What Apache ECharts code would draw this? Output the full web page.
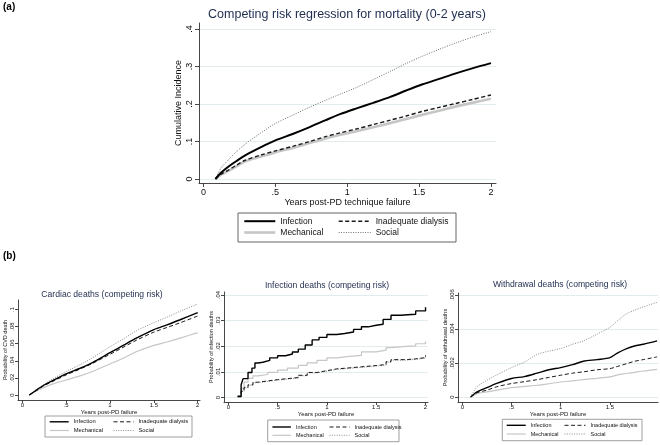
<!DOCTYPE html>
<html><head><meta charset="utf-8">
<script src="https://cdn.jsdelivr.net/npm/echarts@6/dist/echarts.min.js"></script>
<style>html,body{margin:0;padding:0;background:#fff}#c{width:660px;height:445px}</style>
</head><body><div id="c"></div>
<script>
// ---------------- DATA ----------------
const NAMES = ['Infection', 'Mechanical', 'Inadequate dialysis', 'Social'];

// Panel (a): Competing risk regression for mortality (0-2 years)
const A_X          = [0.083, 0.12, 0.17, 0.23, 0.29, 0.4, 0.5, 0.62, 0.73, 0.85, 0.95, 1.07, 1.18, 1.3, 1.41, 1.52, 1.64, 1.75, 1.87, 2.0];
const A_INFECTION  = [0, 0.016, 0.032, 0.048, 0.063, 0.085, 0.103, 0.12, 0.137, 0.157, 0.173, 0.189, 0.203, 0.219, 0.236, 0.252, 0.267, 0.281, 0.295, 0.309];
const A_MECHANICAL = [0, 0.011, 0.021, 0.034, 0.047, 0.06, 0.071, 0.083, 0.095, 0.108, 0.118, 0.128, 0.138, 0.149, 0.16, 0.171, 0.182, 0.193, 0.203, 0.214];
const A_INADEQUATE = [0, 0.012, 0.023, 0.037, 0.05, 0.064, 0.075, 0.087, 0.099, 0.113, 0.123, 0.134, 0.145, 0.157, 0.168, 0.18, 0.191, 0.201, 0.212, 0.224];
const A_SOCIAL     = [0, 0.028, 0.05, 0.073, 0.093, 0.123, 0.148, 0.17, 0.19, 0.21, 0.226, 0.245, 0.265, 0.287, 0.308, 0.327, 0.346, 0.362, 0.378, 0.393];
const A_XTICKS = [0, 0.5, 1, 1.5, 2];
const A_YTICKS = [0, 0.1, 0.2, 0.3, 0.4];

// Panel (b1): Cardiac deaths
const B1_X          = [0.08, 0.15, 0.25, 0.35, 0.5, 0.65, 0.8, 1.0, 1.15, 1.3, 1.5, 1.65, 1.8, 2.0];
const B1_INFECTION  = [0, 0.005, 0.0117, 0.017, 0.0246, 0.031, 0.038, 0.0495, 0.058, 0.0665, 0.0765, 0.082, 0.088, 0.0963];
const B1_MECHANICAL = [0, 0.004, 0.0088, 0.013, 0.0175, 0.022, 0.0275, 0.0363, 0.043, 0.0505, 0.058, 0.062, 0.0665, 0.0729];
const B1_INADEQUATE = [0, 0.0045, 0.011, 0.016, 0.0235, 0.03, 0.037, 0.0476, 0.0558, 0.064, 0.0735, 0.079, 0.0845, 0.0924];
const B1_SOCIAL     = [0, 0.0055, 0.0125, 0.019, 0.0273, 0.035, 0.0435, 0.0565, 0.0655, 0.075, 0.0846, 0.091, 0.098, 0.1064];
const B1_XTICKS = [0, 0.5, 1, 1.5, 2];
const B1_YTICKS = [0, 0.02, 0.04, 0.06, 0.08, 0.1];

// Panel (b2): Infection deaths
const B2_X_INF      = [0.095, 0.13, 0.15, 0.2, 0.24, 0.27, 0.3, 0.35, 0.42, 0.5, 0.58, 0.65, 0.71, 0.78, 0.85, 0.92, 1.0, 1.1, 1.18, 1.27, 1.35, 1.42, 1.5, 1.57, 1.65, 1.75, 1.82, 1.9, 2.0];
const B2_INFECTION  = [0.0005, 0.005, 0.0074, 0.0098, 0.0115, 0.0135, 0.0138, 0.0145, 0.0155, 0.0163, 0.017, 0.0178, 0.0189, 0.0205, 0.0225, 0.0235, 0.0246, 0.025, 0.0256, 0.0266, 0.0276, 0.0282, 0.0286, 0.0305, 0.0321, 0.0323, 0.0325, 0.0338, 0.0352];
const B2_X          = [0.095, 0.13, 0.16, 0.2, 0.25, 0.3, 0.4, 0.5, 0.6, 0.71, 0.8, 0.9, 1.0, 1.1, 1.2, 1.35, 1.5, 1.6, 1.65, 1.8, 1.9, 2.0];
const B2_MECHANICAL = [0.0005, 0.0035, 0.006, 0.0075, 0.0085, 0.009, 0.0098, 0.0107, 0.0115, 0.0126, 0.0135, 0.0145, 0.0155, 0.016, 0.0165, 0.0178, 0.0185, 0.0195, 0.02, 0.0202, 0.021, 0.022];
const B2_INADEQUATE = [0.0003, 0.0025, 0.004, 0.005, 0.006, 0.0065, 0.007, 0.0074, 0.0078, 0.0087, 0.0098, 0.0105, 0.0112, 0.0115, 0.012, 0.0125, 0.0129, 0.014, 0.0148, 0.0151, 0.0156, 0.0165];
const B2_SOCIAL     = [0.0003, 0.0024, 0.0038, 0.0048, 0.0058, 0.0063, 0.0068, 0.0072, 0.0076, 0.0085, 0.0096, 0.0103, 0.011, 0.0113, 0.0118, 0.0123, 0.0127, 0.0138, 0.0146, 0.0149, 0.0154, 0.0163];
const B2_XTICKS = [0, 0.5, 1, 1.5, 2];
const B2_YTICKS = [0, 0.01, 0.02, 0.03, 0.04];

// Panel (b3): Withdrawal deaths
const B3_X          = [0.085, 0.15, 0.25, 0.35, 0.5, 0.63, 0.76, 0.88, 1.0, 1.12, 1.23, 1.37, 1.5, 1.58, 1.67, 1.75, 1.84, 1.98];
const B3_INFECTION  = [0, 0.0003, 0.00055, 0.0008, 0.00109, 0.0012, 0.0014, 0.0016, 0.00173, 0.0019, 0.0021, 0.0022, 0.00232, 0.0026, 0.00285, 0.003, 0.0031, 0.0033];
const B3_MECHANICAL = [0, 0.0002, 0.0003, 0.0004, 0.00055, 0.00062, 0.00069, 0.00078, 0.00088, 0.00095, 0.00102, 0.0011, 0.00118, 0.0013, 0.00138, 0.00145, 0.00153, 0.00163];
const B3_INADEQUATE = [0, 0.00025, 0.0004, 0.0006, 0.00079, 0.0009, 0.00102, 0.00115, 0.00128, 0.0014, 0.00148, 0.0016, 0.00167, 0.0018, 0.00196, 0.0021, 0.0022, 0.00236];
const B3_SOCIAL     = [0, 0.0006, 0.00098, 0.0013, 0.00173, 0.00205, 0.0025, 0.0027, 0.00285, 0.0031, 0.0033, 0.0037, 0.0041, 0.0045, 0.0049, 0.0051, 0.0053, 0.00557];
const B3_XTICKS = [0, 0.5, 1, 1.5];
const B3_YTICKS = [0, 0.002, 0.004, 0.006];

// ---------------- STYLE ----------------
const FONT = "'Liberation Sans', Arial, Helvetica, sans-serif";
const NAVY = '#1f2c4f';
const COLORS = {'Infection': '#000000', 'Mechanical': '#c6c6c6', 'Inadequate dialysis': '#1a1a1a', 'Social': '#707070'};
const DASH = {'Infection': 'solid', 'Mechanical': 'solid', 'Inadequate dialysis': [4, 2.5], 'Social': [1, 1.4]};
const W_A = {'Infection': 2, 'Mechanical': 2.6, 'Inadequate dialysis': 1.4, 'Social': 1};
const W_B = {'Infection': 1.4, 'Mechanical': 1.2, 'Inadequate dialysis': 1, 'Social': 0.8};
const ZORD = {'Mechanical': 1, 'Social': 2, 'Inadequate dialysis': 3, 'Infection': 4};

function fmt(v) {
  const s = String(+(+v).toFixed(6));
  return s.replace(/^0\./, '.').replace(/^-0\./, '-.');
}

function mkLine(name, xs, ys, idx, widths, step) {
  return {
    type: 'line', name: name, xAxisIndex: idx, yAxisIndex: idx,
    data: xs.map((x, i) => [x, ys[i]]),
    symbol: 'none', showSymbol: false, smooth: step ? false : 0.3, step: step || false,
    lineStyle: {color: COLORS[name], width: widths[name], type: DASH[name]},
    itemStyle: {color: COLORS[name]},
    emphasis: {disabled: true}, silent: true, z: ZORD[name], animation: false
  };
}

function mkX(idx, min, max, ticks, fs, name, nameFs, nameGap, tickLen, margin) {
  return {
    type: 'value', gridIndex: idx, min: min, max: max,
    axisLine: {show: true, onZero: false, lineStyle: {color: '#333', width: 0.9}},
    axisTick: {show: true, length: tickLen, customValues: ticks, lineStyle: {color: '#333', width: 0.9}},
    axisLabel: {customValues: ticks, formatter: fmt, fontSize: fs, color: '#111', fontFamily: FONT, margin: margin},
    splitLine: {show: false},
    name: name, nameLocation: 'middle', nameGap: nameGap,
    nameTextStyle: {fontSize: nameFs, color: '#111', fontFamily: FONT}
  };
}
function mkY(idx, min, max, ticks, fs, name, nameFs, nameGap, tickLen, margin, grid) {
  return {
    type: 'value', gridIndex: idx, min: min, max: max,
    axisLine: {show: true, onZero: false, lineStyle: {color: '#333', width: 0.9}},
    axisTick: {show: true, length: tickLen, customValues: ticks, lineStyle: {color: '#333', width: 0.9}},
    axisLabel: {customValues: ticks, formatter: fmt, fontSize: fs, color: '#111', fontFamily: FONT, margin: margin, rotate: 90},
    splitLine: {show: grid, lineStyle: {color: '#e2ebee', width: 1}},
    name: name, nameLocation: 'middle', nameGap: nameGap,
    nameTextStyle: {fontSize: nameFs, color: '#111', fontFamily: FONT}
  };
}

function legendCol(names, left, top, iw, ih, gap, fs, widths) {
  return {
    orient: 'vertical', left: left, top: top, padding: 0,
    itemWidth: iw, itemHeight: ih, itemGap: gap, selectedMode: false,
    textStyle: {fontSize: fs, color: '#111', fontFamily: FONT},
    itemStyle: {opacity: 0, borderWidth: 0},
    data: names.map(n => ({
      name: n,
      itemStyle: {opacity: 0, borderWidth: 0, color: 'rgba(0,0,0,0)'},
      lineStyle: {width: widths[n], color: COLORS[n], type: DASH[n], opacity: 1}
    }))
  };
}

const series = [];
const order = ['Mechanical', 'Social', 'Inadequate dialysis', 'Infection'];
const A = {'Infection': A_INFECTION, 'Mechanical': A_MECHANICAL, 'Inadequate dialysis': A_INADEQUATE, 'Social': A_SOCIAL};
const B1 = {'Infection': B1_INFECTION, 'Mechanical': B1_MECHANICAL, 'Inadequate dialysis': B1_INADEQUATE, 'Social': B1_SOCIAL};
const B2 = {'Infection': B2_INFECTION, 'Mechanical': B2_MECHANICAL, 'Inadequate dialysis': B2_INADEQUATE, 'Social': B2_SOCIAL};
const B3 = {'Infection': B3_INFECTION, 'Mechanical': B3_MECHANICAL, 'Inadequate dialysis': B3_INADEQUATE, 'Social': B3_SOCIAL};
order.forEach(n => series.push(mkLine(n, A_X, A[n], 0, W_A)));
order.forEach(n => series.push(mkLine(n, B1_X, B1[n], 1, W_B)));
order.forEach(n => series.push(mkLine(n, n === 'Infection' ? B2_X_INF : B2_X, B2[n], 2, W_B, 'end')));
order.forEach(n => series.push(mkLine(n, B3_X, B3[n], 3, W_B)));

const chart = echarts.init(document.getElementById('c'), null, {renderer: 'canvas'});
chart.setOption({
  backgroundColor: '#ffffff',
  animation: false,
  grid: [
    {left: 199, top: 23, width: 297, height: 160},
    {left: 18, top: 300, width: 182, height: 100},
    {left: 224, top: 292, width: 204, height: 110},
    {left: 458, top: 293, width: 200, height: 109}
  ],
  xAxis: [
    mkX(0, -0.0313, 2.035, A_XTICKS, 9, 'Years post-PD technique failure', 9, 14, 4, 5),
    mkX(1, -0.049, 2.026, B1_XTICKS, 6, 'Years post-PD failure', 6, 8, 3, 2),
    mkX(2, -0.0436, 2.025, B2_XTICKS, 6, 'Years post-PD failure', 6, 9, 3, 2),
    mkX(3, -0.0437, 1.989, B3_XTICKS, 6, 'Years post-PD failure', 6, 9, 3, 2)
  ],
  yAxis: [
    mkY(0, -0.01067, 0.416, A_YTICKS, 9, 'Cumulative Incidence', 9, 16, 4, 5, true),
    mkY(1, -0.00585, 0.1111, B1_YTICKS, 6, 'Probability of CVD death', 5.5, 10, 3, 3, false),
    mkY(2, -0.00172, 0.04118, B2_YTICKS, 6, 'Probability of infection deaths', 5.5, 10, 3, 3, true),
    mkY(3, -0.000295, 0.006118, B3_YTICKS, 6, 'Probability of withdrawal deaths', 5.5, 10, 3, 3, true)
  ],
  legend: [
    legendCol(['Infection', 'Mechanical'], 243, 216.7, 31, 10, 2.3, 8.5, W_A),
    legendCol(['Inadequate dialysis', 'Social'], 338, 216.7, 32, 10, 2.3, 8.5, W_A),
    legendCol(['Infection', 'Mechanical'], 49, 418.8, 19, 7, 2.7, 5.8, W_B),
    legendCol(['Inadequate dialysis', 'Social'], 113, 418.8, 20, 7, 2.7, 5.8, W_B),
    legendCol(['Infection', 'Mechanical'], 271.7, 424, 18.5, 6, 2.3, 5.5, W_B),
    legendCol(['Inadequate dialysis', 'Social'], 329, 424, 20, 6, 2.3, 5.5, W_B),
    legendCol(['Infection', 'Mechanical'], 506, 422.3, 19, 6, 2.7, 5.5, W_B),
    legendCol(['Inadequate dialysis', 'Social'], 564, 422.3, 21, 6, 2.7, 5.5, W_B)
  ],
  graphic: [
    {type: 'text', left: 3, top: 2, style: {text: '(a)', fontSize: 10, fontWeight: 'bold', fill: '#000', fontFamily: FONT}},
    {type: 'text', left: 3, top: 251, style: {text: '(b)', fontSize: 10, fontWeight: 'bold', fill: '#000', fontFamily: FONT}},
    {type: 'text', x: 347, y: 15, style: {text: 'Competing risk regression for mortality (0-2 years)', fontSize: 12.5, fill: NAVY, fontFamily: FONT, align: 'center', verticalAlign: 'middle'}},
    {type: 'text', x: 102, y: 295, style: {text: 'Cardiac deaths (competing risk)', fontSize: 8.6, fill: NAVY, fontFamily: FONT, align: 'center', verticalAlign: 'middle'}},
    {type: 'text', x: 327, y: 286, style: {text: 'Infection deaths (competing risk)', fontSize: 8.6, fill: NAVY, fontFamily: FONT, align: 'center', verticalAlign: 'middle'}},
    {type: 'text', x: 560, y: 285, style: {text: 'Withdrawal deaths (competing risk)', fontSize: 8.6, fill: NAVY, fontFamily: FONT, align: 'center', verticalAlign: 'middle'}},
    {type: 'rect', shape: {x: 238, y: 213, width: 218, height: 29}, style: {fill: 'none', stroke: '#555', lineWidth: 0.9}, silent: true},
    {type: 'rect', shape: {x: 45, y: 416, width: 147, height: 21}, style: {fill: 'none', stroke: '#777', lineWidth: 0.7}, silent: true},
    {type: 'rect', shape: {x: 267.7, y: 420, width: 131.3, height: 21.7}, style: {fill: 'none', stroke: '#777', lineWidth: 0.7}, silent: true},
    {type: 'rect', shape: {x: 502.3, y: 419.3, width: 139.7, height: 21.4}, style: {fill: 'none', stroke: '#777', lineWidth: 0.7}, silent: true}
  ],
  series: series
});
</script>
</body></html>
